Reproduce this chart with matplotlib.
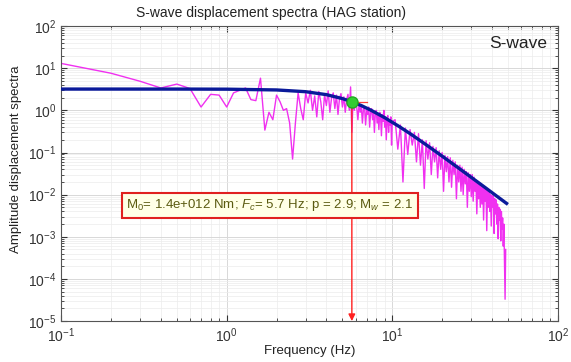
import numpy as np
import matplotlib
matplotlib.use("Agg")
import matplotlib.pyplot as plt

plt.rcParams['font.family'] = ['Liberation Sans', 'DejaVu Sans']
plt.rcParams['mathtext.fontset'] = 'custom'
plt.rcParams['mathtext.rm'] = 'Liberation Sans'
plt.rcParams['mathtext.it'] = 'Liberation Sans:italic'

# observed spectrum, low band 0.1 - 6.0 Hz (step 0.1 Hz)
f_low = np.round(np.arange(0.1, 6.05, 0.1), 1)
amp_low = [13, 7.6, 4.9, 3.4, 4.2, 3.3, 1.2, 2.4, 2.3, 1.2,
           2.6, 3.0, 3.4, 1.8, 1.7, 5.8, 0.34, 0.9, 0.6, 2.3,
           1.6, 1.0, 1.1, 0.5, 0.07, 0.5, 2.6, 1.1, 0.6, 2.6,
           1.5, 3.0, 1.0, 2.2, 0.7, 2.8, 1.6, 0.6, 2.4, 1.3,
           2.9, 0.9, 2.0, 2.6, 1.1, 2.3, 0.8, 1.9, 2.5, 1.2,
           2.1, 0.9, 1.8, 2.4, 1.0, 3.6, 0.3, 1.9, 1.0, 1.6]

# mid band 6.1 - 10.0 Hz (step 0.1 Hz)
f_mid = np.round(np.arange(6.1, 10.05, 0.1), 1)
amp_mid = [1.2, 0.6, 1.4, 0.9, 1.3, 0.5, 1.1, 1.2, 0.45, 1.0,
           0.8, 1.2, 0.4, 0.9, 1.1, 0.6, 0.95, 0.3, 0.85, 1.0,
           0.5, 0.8, 0.35, 0.9, 0.7, 0.25, 0.8, 0.55, 1.0, 0.4,
           0.7, 0.2, 0.65, 0.75, 0.3, 0.6, 0.45, 0.7, 0.15, 0.55]

# high band 10.4 - 48.4 Hz (step 0.4 Hz)
f_high = np.round(np.arange(10.4, 48.45, 0.4), 1)
amp_high = [0.6, 0.12, 0.45, 0.02, 0.38, 0.09, 0.35, 0.15, 0.3, 0.06,
            0.28, 0.05, 0.2, 0.014, 0.19, 0.07, 0.17, 0.03, 0.14, 0.06,
            0.13, 0.025, 0.11, 0.04, 0.1, 0.012, 0.085, 0.035, 0.08, 0.02,
            0.075, 0.015, 0.065, 0.03, 0.06, 0.008, 0.05, 0.02, 0.05, 0.012,
            0.045, 0.01, 0.04, 0.018, 0.035, 0.005, 0.033, 0.012, 0.03, 0.009,
            0.03, 0.007, 0.026, 0.012, 0.022, 0.0035, 0.02, 0.008, 0.019, 0.005,
            0.018, 0.006, 0.016, 0.0025, 0.014, 0.007, 0.0135, 0.0014, 0.012, 0.005,
            0.012, 0.004, 0.01, 0.0018, 0.0095, 0.005, 0.009, 0.0012, 0.008, 0.0035,
            0.0075, 0.002, 0.006, 0.0009, 0.005, 0.0025, 0.0045, 0.0008, 0.004, 0.0015,
            0.0028, 0.0006, 0.002, 0.0003, 3.3e-5, 0.0005]

# fitted source model
f_model = [0.1, 0.5, 1, 2, 3, 4, 5, 5.7, 6.5, 7.5, 9, 11, 13, 16, 20, 25, 30, 36, 42, 49]
amp_model = [3.2, 3.2, 3.18, 3.05, 2.77, 2.36, 1.9, 1.6, 1.3, 0.99, 0.67, 0.414,
             0.27, 0.153, 0.082, 0.0434, 0.0257, 0.0152, 0.0097, 0.0062]

fc = 5.7
fc_amp = 1.6

freq = np.concatenate([f_low, f_mid, f_high])
amp = np.concatenate([amp_low, amp_mid, amp_high])

fig = plt.figure(figsize=(5.71, 3.62), dpi=100)
ax = fig.add_axes([0.107, 0.113, 0.870, 0.815])

ax.loglog(freq, amp, color='#f030f0', lw=1.0, zorder=2)
ax.loglog(f_model, amp_model, color='#0a1a9a', lw=2.4, zorder=3)

# corner frequency marker
ax.plot([5.35, 7.0], [fc_amp, fc_amp], color='#ff4040', lw=0.9, zorder=4)
ax.annotate('', xy=(fc, 1e-5), xytext=(fc, fc_amp),
            arrowprops=dict(arrowstyle='-|>', color='#ff2020', lw=1.0,
                            mutation_scale=10, shrinkA=0, shrinkB=0), zorder=4)
ax.plot(fc, fc_amp, 'o', ms=8, color='#33cc33', mec='#22aa22', zorder=5)

ax.set_xlim(0.1, 100)
ax.set_ylim(1e-5, 1e2)

ax.grid(True, which='major', color='#d8d8d8', lw=0.7)
ax.grid(True, which='minor', color='#ececec', lw=0.5)
ax.set_axisbelow(True)
ax.tick_params(which='both', direction='in', top=True, right=True,
               labelsize=10, colors='#333333')
ax.tick_params(which='major', length=4)
ax.tick_params(which='minor', length=2)
ax.tick_params(axis='x', pad=4)
for s in ax.spines.values():
    s.set_color('#555555')
ax.yaxis.set_major_locator(matplotlib.ticker.LogLocator(base=10, numticks=10))
ax.yaxis.set_minor_locator(matplotlib.ticker.LogLocator(base=10, subs=np.arange(2, 10), numticks=10))
ax.yaxis.set_minor_formatter(matplotlib.ticker.NullFormatter())
ax.xaxis.set_minor_formatter(matplotlib.ticker.NullFormatter())

ax.set_xlabel('Frequency (Hz)', fontsize=9.5, color='#222222', labelpad=0)
ax.set_ylabel('Amplitude displacement spectra', fontsize=9.5, color='#222222')
ax.yaxis.set_label_coords(-0.078, 0.55)
fig.text(0.475, 0.963, 'S-wave displacement spectra (HAG station)',
         ha='center', va='center', fontsize=10, color='#222222')
ax.text(0.978, 0.94, 'S-wave', transform=ax.transAxes, ha='right', va='center',
        fontsize=12.5, color='#222222')

ax.text(0.42, 0.393, r'M$_0$= 1.4e+012 Nm; $F_c$= 5.7 Hz; p = 2.9; M$_w$ = 2.1',
        transform=ax.transAxes, ha='center', va='center', fontsize=9.5,
        color='#5a5a10', zorder=6,
        bbox=dict(boxstyle='square,pad=0.35', fc='#ffffe6', ec='#e02020', lw=1.5))

fig.savefig('out.png', dpi=100)
